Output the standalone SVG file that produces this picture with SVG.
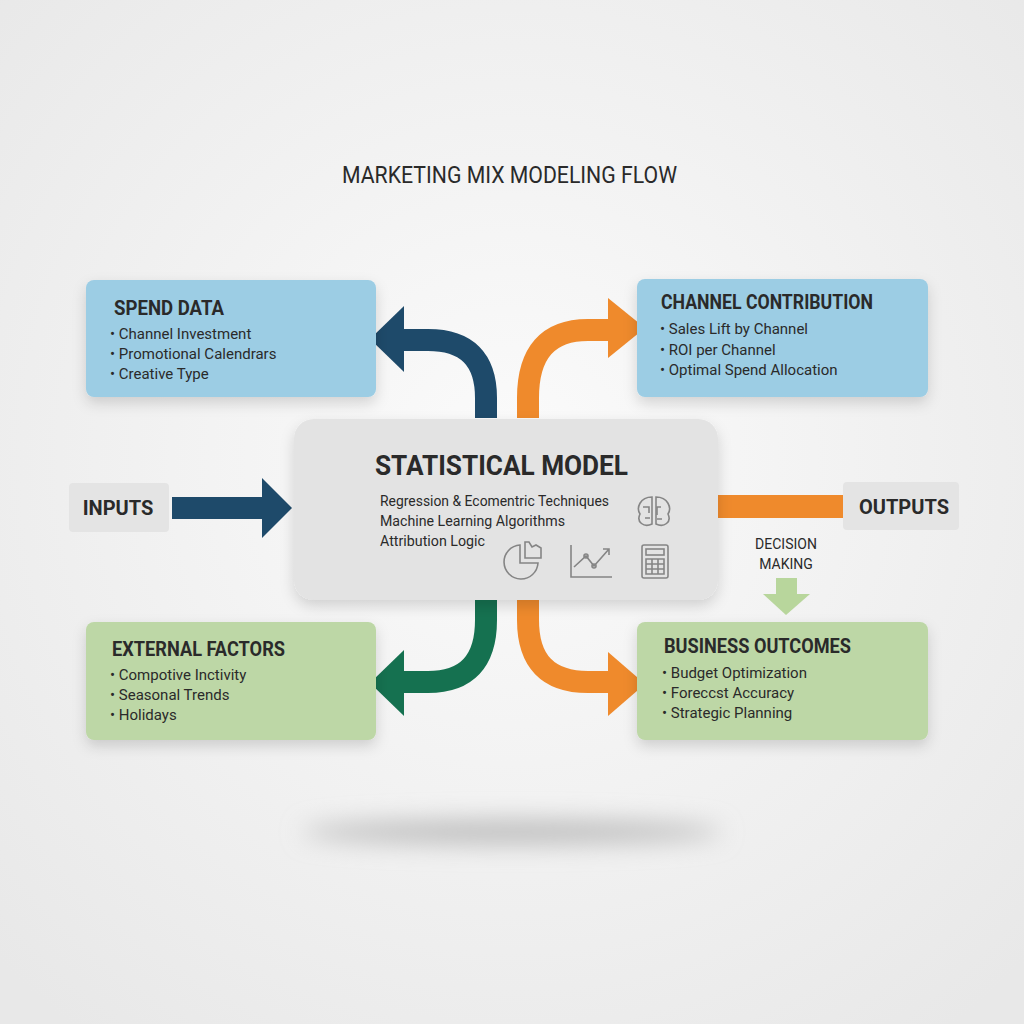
<svg xmlns="http://www.w3.org/2000/svg" width="1024" height="1024" viewBox="0 0 1024 1024">
<defs>
<radialGradient id="bg" cx="50%" cy="45%" r="70%"><stop offset="0" stop-color="#fbfbfb"/><stop offset="1" stop-color="#e8e8e8"/></radialGradient>
<filter id="sh" x="-20%" y="-20%" width="140%" height="150%"><feDropShadow dx="0" dy="6" stdDeviation="7" flood-color="#000" flood-opacity="0.15"/></filter>
<filter id="blur" x="-50%" y="-200%" width="200%" height="500%"><feGaussianBlur stdDeviation="12"/></filter>
<style>
text{font-family:Roboto,"Liberation Sans",sans-serif;fill:#2a2a2a}
.h{font-size:20px;font-weight:bold}
.b{font-size:15px}
.ic{fill:none;stroke:#858585;stroke-width:1.6}
</style>
</defs>
<rect width="1024" height="1024" fill="url(#bg)"/>
<ellipse cx="512" cy="832" rx="210" ry="12" fill="#bdbdbd" filter="url(#blur)"/>
<text x="342" y="183" font-size="24" textLength="335" lengthAdjust="spacingAndGlyphs">MARKETING MIX MODELING FLOW</text>

<g id="connectors">
<path d="M486 418 V398 Q486 340 428 340 H402" fill="none" stroke="#1e4a6a" stroke-width="22"/>
<polygon points="404,306 370,339 404,372" fill="#1e4a6a"/>
<path d="M528 418 V398 Q528 330 588 330 H610" fill="none" stroke="#ef8a2c" stroke-width="22"/>
<polygon points="608,298 645,328 608,358" fill="#ef8a2c"/>
<path d="M486 600 V620 Q486 682 428 682 H402" fill="none" stroke="#157150" stroke-width="22"/>
<polygon points="404,650 370,683 404,716" fill="#157150"/>
<path d="M528 600 V620 Q528 682 588 682 H610" fill="none" stroke="#ef8a2c" stroke-width="22"/>
<polygon points="608,652 645,684 608,716" fill="#ef8a2c"/>
<rect x="172" y="497" width="92" height="22" fill="#1e4a6a"/>
<polygon points="262,478 292,508 262,538" fill="#1e4a6a"/>
<rect x="718" y="495" width="126" height="23" fill="#ef8a2c"/>
<rect x="776" y="578" width="21" height="18" fill="#b8d69c"/>
<polygon points="763,594 810,594 786,615" fill="#b8d69c"/>
</g>

<g id="spend">
<rect x="86" y="280" width="290" height="117" rx="8" fill="#9ccde4" filter="url(#sh)"/>
<text x="114" y="315" class="h" textLength="110" lengthAdjust="spacingAndGlyphs">SPEND DATA</text>
<text x="110" y="339" class="b">• Channel Investment</text>
<text x="110" y="359" class="b">• Promotional Calendrars</text>
<text x="110" y="379" class="b">• Creative Type</text>
</g>
<g id="channel">
<rect x="637" y="279" width="291" height="118" rx="8" fill="#9ccde4" filter="url(#sh)"/>
<text x="661" y="309" class="h" textLength="212" lengthAdjust="spacingAndGlyphs">CHANNEL CONTRIBUTION</text>
<text x="660" y="334" class="b">• Sales Lift by Channel</text>
<text x="660" y="355" class="b">• ROI per Channel</text>
<text x="660" y="375" class="b">• Optimal Spend Allocation</text>
</g>
<g id="external">
<rect x="86" y="622" width="290" height="118" rx="8" fill="#bdd7a6" filter="url(#sh)"/>
<text x="112" y="656" class="h" textLength="173" lengthAdjust="spacingAndGlyphs">EXTERNAL FACTORS</text>
<text x="110" y="680" class="b">• Compotive Inctivity</text>
<text x="110" y="700" class="b">• Seasonal Trends</text>
<text x="110" y="720" class="b">• Holidays</text>
</g>
<g id="business">
<rect x="637" y="622" width="291" height="118" rx="8" fill="#bdd7a6" filter="url(#sh)"/>
<text x="664" y="653" class="h" textLength="187" lengthAdjust="spacingAndGlyphs">BUSINESS OUTCOMES</text>
<text x="662" y="678" class="b">• Budget Optimization</text>
<text x="662" y="698" class="b">• Foreccst Accuracy</text>
<text x="662" y="718" class="b">• Strategic Planning</text>
</g>
<g id="model">
<rect x="294" y="419" width="424" height="181" rx="20" fill="#e3e3e3" filter="url(#sh)"/>
<text x="375" y="475" font-size="28" font-weight="bold" textLength="253" lengthAdjust="spacingAndGlyphs">STATISTICAL MODEL</text>
<text x="380" y="506" class="b" textLength="229" lengthAdjust="spacingAndGlyphs">Regression &amp; Ecomentric Techniques</text>
<text x="380" y="526" class="b" textLength="185" lengthAdjust="spacingAndGlyphs">Machine Learning Algorithms</text>
<text x="380" y="546" class="b" textLength="105" lengthAdjust="spacingAndGlyphs">Attribution Logic</text>
<g class="ic">
<path d="M652 497 C640 497 636 508 640 514 C636 522 644 528 652 524 Z"/>
<path d="M656 497 C668 497 672 508 668 514 C672 522 664 528 656 524 Z"/>
<path d="M643 507 h6 v6 M661 507 h-4 v8 M645 518 h5 M662 519 h-5"/>
<path d="M520 545 A17 17 0 1 0 538 563 H520 Z"/>
<path d="M525 542 v16 h16 v-10 l-5 -3 -4 2 -3 -5 z"/>
<path d="M571 545 V577 H612"/>
<path d="M574 567 L586 556 L594 566 L609 549 M603 549 h6 v6"/>
<circle cx="586" cy="556" r="2"/><circle cx="594" cy="566" r="2"/>
<rect x="642" y="545" width="26" height="33" rx="2"/>
<rect x="646" y="549" width="18" height="6"/>
<path d="M646 559 h18 v15 h-18 z M652 559 v15 M658 559 v15 M646 564 h18 M646 569 h18"/>
</g>
</g>
<g id="inputs">
<rect x="69" y="483" width="100" height="49" rx="4" fill="#e4e4e4"/>
<text x="118" y="515" text-anchor="middle" class="h">INPUTS</text>
</g>
<g id="outputs">
<rect x="843" y="482" width="116" height="48" rx="4" fill="#e4e4e4"/>
<text x="904" y="514" text-anchor="middle" class="h">OUTPUTS</text>
</g>
<g id="decision">
<text x="786" y="549" text-anchor="middle" font-size="14">DECISION</text>
<text x="786" y="569" text-anchor="middle" font-size="14">MAKING</text>
</g>
</svg>
